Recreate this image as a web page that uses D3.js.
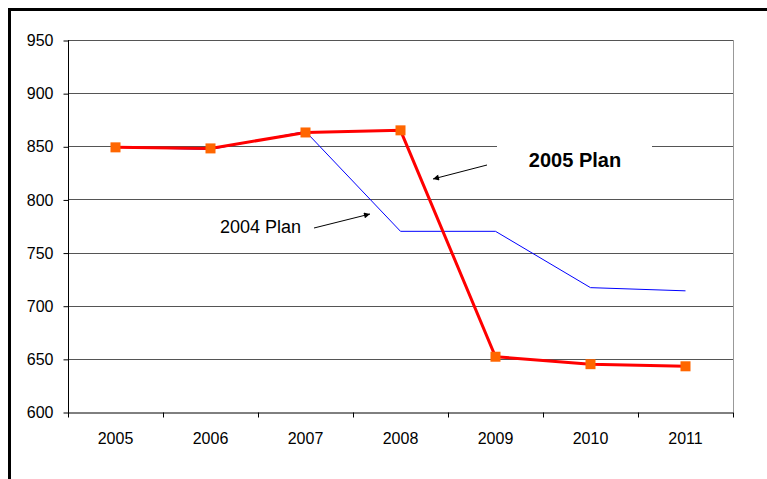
<!DOCTYPE html>
<html lang="en">
<head>
    <meta charset="UTF-8">
    <title>2004 Plan vs 2005 Plan</title>
    <script src="https://d3js.org/d3.v7.min.js"></script>
    <style>
        body { margin: 0; background: #fff; }
        text { font-family: "Liberation Sans", Arial, sans-serif; }
    </style>
</head>
<body>
    <script>
        // data
        var years = ["2005", "2006", "2007", "2008", "2009", "2010", "2011"];
        var plan2005 = [849, 848, 863, 865, 652, 645, 643];
        var plan2004 = [849, 847, 864, 770, 770, 717, 714];
        var yTicks = [600, 650, 700, 750, 800, 850, 900, 950];

        var width = 767, height = 479;
        // note: "top" is a reserved window property, so use plot* names
        var plotLeft = 68, plotRight = 733, plotTop = 40, plotBottom = 412;

        var svg = d3.select("body").append("svg")
            .attr("width", width)
            .attr("height", height);

        // outer frame (left + top only visible)
        svg.append("path")
            .attr("d", "M9.5,479 V9.5 H767")
            .attr("fill", "none")
            .attr("stroke", "#000")
            .attr("stroke-width", 3);

        var x = d3.scaleBand().domain(years).range([plotLeft, plotRight]).padding(0);
        var y = d3.scaleLinear().domain([600, 950]).range([plotBottom, plotTop]);
        var cx = function(d, i) { return x(years[i]) + x.bandwidth() / 2; };

        // gridlines
        svg.append("g")
            .selectAll("line")
            .data(yTicks.slice(1))
            .enter().append("line")
            .attr("x1", plotLeft).attr("x2", plotRight)
            .attr("y1", function(d) { return Math.round(y(d)) + 0.5; })
            .attr("y2", function(d) { return Math.round(y(d)) + 0.5; })
            .attr("stroke", "#555")
            .attr("stroke-width", 1);

        // right plot border
        svg.append("line")
            .attr("x1", plotRight + 0.5).attr("x2", plotRight + 0.5)
            .attr("y1", plotTop).attr("y2", plotBottom)
            .attr("stroke", "#999");

        // y axis
        var yAxis = svg.append("g")
            .attr("transform", "translate(" + (plotLeft + 0.5) + ",0.5)")
            .call(d3.axisLeft(y).tickValues(yTicks).tickSize(5).tickPadding(10).tickSizeOuter(0));
        yAxis.select(".domain").attr("d", "M0," + (plotTop - 0.5) + "V" + (plotBottom + 5));
        yAxis.selectAll("text").attr("font-size", 16).attr("fill", "#000")
            .attr("font-family", "Liberation Sans, Arial, sans-serif");
        yAxis.selectAll("line").attr("stroke", "#000");

        // x axis
        var xAxis = svg.append("g")
            .attr("transform", "translate(0," + (Math.round(y(600)) + 0.5) + ")")
            .call(d3.axisBottom(x).tickSize(0).tickPadding(20).tickSizeOuter(0));
        xAxis.select(".domain").attr("stroke", "#000");
        xAxis.selectAll("text").attr("font-size", 16).attr("fill", "#000")
            .attr("font-family", "Liberation Sans, Arial, sans-serif");
        xAxis.selectAll(".sep")
            .data(years.slice(1).concat(["end"]))
            .enter().append("line")
            .attr("class", "sep")
            .attr("x1", function(d) { return (d === "end" ? plotRight : x(d)) + 0.5; })
            .attr("x2", function(d) { return (d === "end" ? plotRight : x(d)) + 0.5; })
            .attr("y1", 0).attr("y2", 5)
            .attr("stroke", "#000");

        // white box behind "2005 Plan" label
        svg.append("rect")
            .attr("x", 497).attr("y", 138)
            .attr("width", 155).attr("height", 42)
            .attr("fill", "#fff");

        var line = d3.line().x(cx).y(function(d) { return y(d); });

        // 2004 plan (thin blue)
        svg.append("path")
            .datum(plan2004)
            .attr("d", line)
            .attr("fill", "none")
            .attr("stroke", "#0000FF")
            .attr("stroke-width", 1);

        // 2005 plan (thick red)
        svg.append("path")
            .datum(plan2005)
            .attr("d", line)
            .attr("fill", "none")
            .attr("stroke", "#FF0000")
            .attr("stroke-width", 3);

        svg.append("g")
            .selectAll("rect")
            .data(plan2005)
            .enter().append("rect")
            .attr("x", function(d, i) { return cx(d, i) - 5; })
            .attr("y", function(d) { return y(d) - 5; })
            .attr("width", 10).attr("height", 10)
            .attr("fill", "#FF6600");

        // annotations
        var defs = svg.append("defs");
        defs.append("marker")
            .attr("id", "arrow")
            .attr("viewBox", "0 0 10 10")
            .attr("refX", 10).attr("refY", 5)
            .attr("markerWidth", 8).attr("markerHeight", 6)
            .attr("orient", "auto")
            .append("path")
            .attr("d", "M0,0 L10,5 L0,10 z")
            .attr("fill", "#000");

        svg.append("text")
            .attr("x", 575).attr("y", 167)
            .attr("text-anchor", "middle")
            .attr("font-size", 20).attr("font-weight", "bold")
            .text("2005 Plan");
        svg.append("line")
            .attr("x1", 487).attr("y1", 165)
            .attr("x2", 433).attr("y2", 179)
            .attr("stroke", "#000").attr("stroke-width", 1)
            .attr("marker-end", "url(#arrow)");

        svg.append("text")
            .attr("x", 220).attr("y", 233)
            .attr("font-size", 18)
            .text("2004 Plan");
        svg.append("line")
            .attr("x1", 314).attr("y1", 228)
            .attr("x2", 370).attr("y2", 214)
            .attr("stroke", "#000").attr("stroke-width", 1)
            .attr("marker-end", "url(#arrow)");
    </script>
</body>
</html>
